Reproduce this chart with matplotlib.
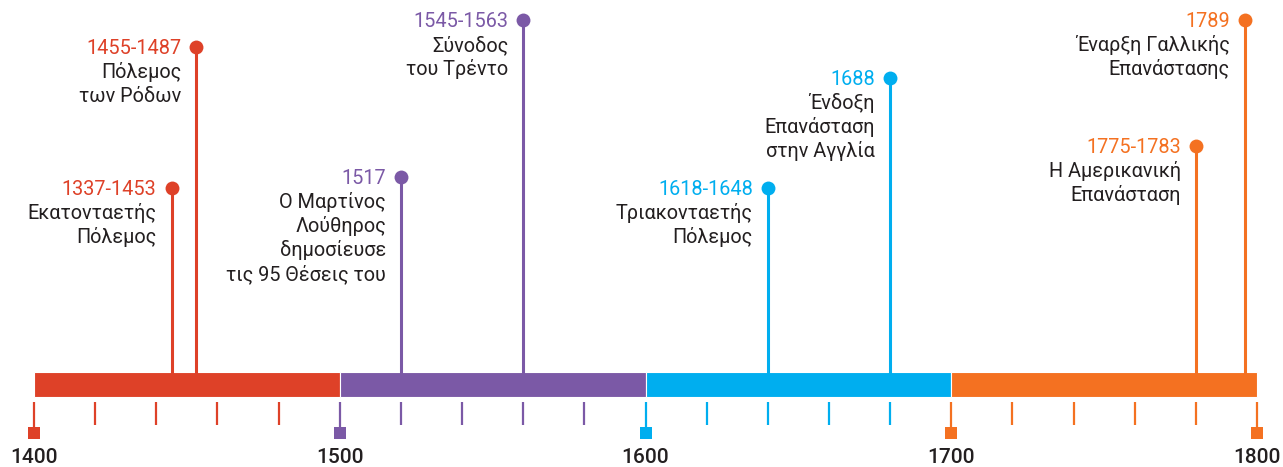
import matplotlib
matplotlib.use("Agg")
import matplotlib.pyplot as plt

# ---- data ----
CENTURIES = [1400, 1500, 1600, 1700]
CENTURY_COLORS = ["#DE4128", "#7B59A6", "#00AEEF", "#F47121"]
CENTURY_LABELS = ["1400", "1500", "1600", "1700", "1800"]
TICK_YEARS = list(range(1400, 1801, 20))

EVENT_X = [1445, 1453, 1520, 1560, 1640, 1680, 1780, 1796]   # position on the axis
EVENT_TOP = [188, 47, 177, 20, 188, 78, 146, 20]             # dot height (px from top)
EVENT_DATES = ["1337-1453", "1455-1487", "1517", "1545-1563",
               "1618-1648", "1688", "1775-1783", "1789"]
EVENT_TEXT = [
    ["Εκατονταετής", "Πόλεμος"],
    ["Πόλεμος", "των Ρόδων"],
    ["Ο Μαρτίνος", "Λούθηρος", "δημοσίευσε", "τις 95 Θέσεις του"],
    ["Σύνοδος", "του Τρέντο"],
    ["Τριακονταετής", "Πόλεμος"],
    ["Ένδοξη", "Επανάσταση", "στην Αγγλία"],
    ["Η Αμερικανική", "Επανάσταση"],
    ["Έναρξη Γαλλικής", "Επανάστασης"],
]

INK = "#231F20"
plt.rcParams["font.family"] = ["Roboto", "DejaVu Sans"]

W, H = 1283, 467
PX = 1223 / 400.0  # px per year
fig = plt.figure(figsize=(W / 100, H / 100), dpi=100)
ax = fig.add_axes([0, 0, 1, 1])
ax.set_xlim(1400 - 34 / PX, 1400 + (W - 34) / PX)
ax.set_ylim(H, 0)
ax.axis("off")


def color_for(year):
    return CENTURY_COLORS[min(int((year - 1400) // 100), 3)]


# century bar
for c, col in zip(CENTURIES, CENTURY_COLORS):
    ax.bar(c, 25, width=100, bottom=372, align="edge", color=col,
           edgecolor="white", linewidth=0.8, zorder=2)

# minor ticks
for t in TICK_YEARS:
    ax.plot([t, t], [402, 425 if t % 100 else 432], color=color_for(t), lw=1.6,
            solid_capstyle="butt", zorder=2)

# century squares and labels
for lab in CENTURY_LABELS:
    yr = int(lab)
    col = color_for(yr)
    ax.plot(yr, 433, marker="s", ms=8, color=col, mew=0, zorder=3)
    ax.text(yr, 463, lab, ha="center", va="baseline", fontsize=15,
            fontweight="medium", color=INK)

# events
for x, top, date, lines in zip(EVENT_X, EVENT_TOP, EVENT_DATES, EVENT_TEXT):
    col = color_for(x)
    ax.plot([x, x], [top, 372], color=col, lw=2.2, zorder=3)
    ax.plot(x, top, marker="o", ms=10, color=col, mew=0, zorder=4)
    tx = x - 15 / PX
    ax.text(tx, top + 7, date, ha="right", va="baseline", fontsize=14.3,
            color=col)
    for j, ln in enumerate(lines):
        ax.text(tx, top + 7 + 24 * (j + 1), ln, ha="right", va="baseline",
                fontsize=14.3, color=INK)

fig.savefig("out.png", dpi=100, facecolor="white")
